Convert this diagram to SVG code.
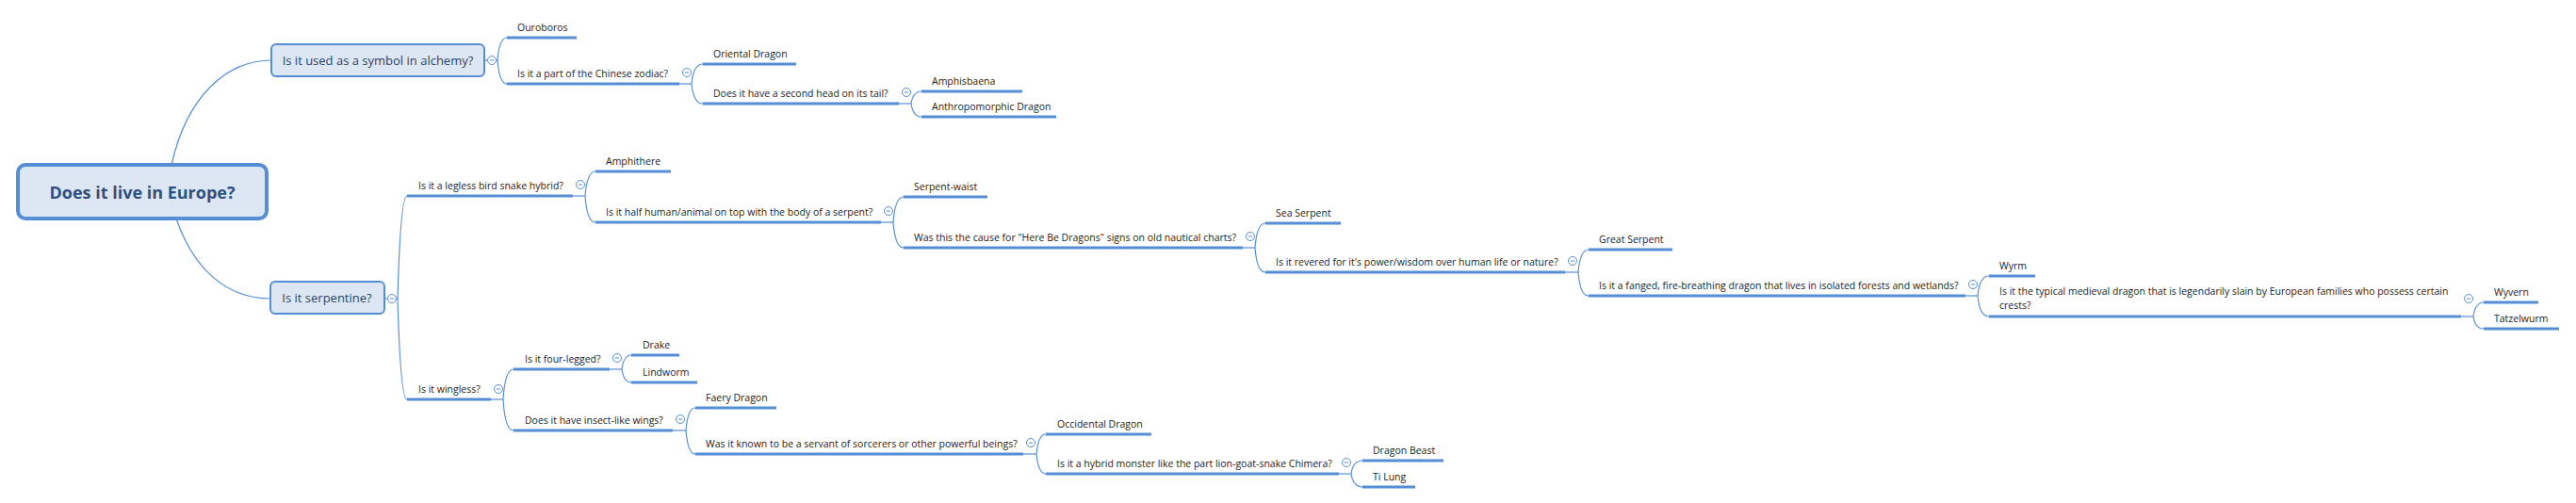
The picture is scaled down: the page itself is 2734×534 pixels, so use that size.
<svg xmlns="http://www.w3.org/2000/svg" xmlns:xlink="http://www.w3.org/1999/xlink" width="2734" height="534" viewBox="0 0 2734 534">
<style>
.c{fill:none;stroke:#558ed5;stroke-width:1.2}
.u{fill:none;stroke:#558ed5;stroke-width:3}
.t{font-family:'Open Sans','Noto Sans',sans-serif;font-size:10.5px;fill:#222222}
.bx{fill:#dde7f3;stroke:#558ed5;stroke-width:2}
.bt{font-family:'Open Sans','Noto Sans',sans-serif;font-size:13px;fill:#2a4468;text-anchor:middle}
.rt{font-family:'Open Sans','Noto Sans',sans-serif;font-size:18px;font-weight:bold;fill:#2e5080;text-anchor:middle}
</style>
<defs>
<g id="m"><circle r="4.5" fill="#ffffff" stroke="#558ed5" stroke-width="1"/><line x1="-2.2" y1="0" x2="2.2" y2="0" stroke="#558ed5" stroke-width="1"/></g>
</defs>
<rect width="2734" height="534" fill="#ffffff"/>
<g id="connectors">
<path class="c" d="M182,175 C198,103 240,64 288,64"/>
<path class="c" d="M187,232 C205,285 240,317 287,317"/>
<path class="c" d="M515,64 H528"/>
<path class="c" d="M528,64 Q530,40 538,40"/>
<path class="c" d="M528,64 Q530,89 538,89"/>
<path class="c" d="M721,89 H734"/>
<path class="c" d="M734,89 Q736,68 746,68"/>
<path class="c" d="M734,89 Q736,110 746,110"/>
<path class="c" d="M954,110 H967"/>
<path class="c" d="M967,110 Q969,97 978,97"/>
<path class="c" d="M967,110 Q969,124 978,124"/>
<path class="c" d="M409,317 H422"/>
<path class="c" d="M422,317 Q425,208 432,208"/>
<path class="c" d="M422,317 Q425,424 432,424"/>
<path class="c" d="M608,208 H621"/>
<path class="c" d="M621,208 Q623,182 632,182"/>
<path class="c" d="M621,208 Q623,236 632,236"/>
<path class="c" d="M935,236 H948"/>
<path class="c" d="M948,236 Q950,209 959,209"/>
<path class="c" d="M948,236 Q950,263 959,263"/>
<path class="c" d="M1319,263 H1332"/>
<path class="c" d="M1332,263 Q1334,237 1343,237"/>
<path class="c" d="M1332,263 Q1334,289 1343,289"/>
<path class="c" d="M1661,289 H1675"/>
<path class="c" d="M1675,289 Q1677,265 1686,265"/>
<path class="c" d="M1675,289 Q1677,314 1686,314"/>
<path class="c" d="M2086,314 H2099"/>
<path class="c" d="M2099,314 Q2101,293 2111,293"/>
<path class="c" d="M2099,314 Q2101,336 2111,336"/>
<path class="c" d="M2612,336 H2625"/>
<path class="c" d="M2625,336 Q2627,321 2636,321"/>
<path class="c" d="M2625,336 Q2627,349 2636,349"/>
<path class="c" d="M521,424 H534"/>
<path class="c" d="M534,424 Q536,392 545,392"/>
<path class="c" d="M534,424 Q536,457 545,457"/>
<path class="c" d="M647,392 H660"/>
<path class="c" d="M660,392 Q662,377 670,377"/>
<path class="c" d="M660,392 Q662,406 670,406"/>
<path class="c" d="M714,457 H728"/>
<path class="c" d="M728,457 Q730,433 738,433"/>
<path class="c" d="M728,457 Q730,482 738,482"/>
<path class="c" d="M1086,482 H1100"/>
<path class="c" d="M1100,482 Q1102,461 1110,461"/>
<path class="c" d="M1100,482 Q1102,503 1110,503"/>
<path class="c" d="M1421,503 H1434"/>
<path class="c" d="M1434,503 Q1436,489 1446,489"/>
<path class="c" d="M1434,503 Q1436,517 1446,517"/>
</g>
<g id="root"><rect x="19" y="175" width="264" height="57" rx="8" fill="#dde7f3" stroke="#558ed5" stroke-width="4"/><text class="rt" x="151" y="211">Does it live in Europe?</text></g>
<g id="alchemy"><rect class="bx" x="288" y="47" width="226" height="34" rx="5"/><text class="bt" x="401" y="69">Is it used as a symbol in alchemy?</text><use xlink:href="#m" x="522" y="64"/></g>
<g id="serpentine"><rect class="bx" x="287" y="299" width="121" height="34" rx="5"/><text class="bt" x="347" y="321">Is it serpentine?</text><use xlink:href="#m" x="416" y="317"/></g>
<g id="ouroboros"><path class="u" d="M538,40 H612"/><text class="t" x="549" y="33">Ouroboros</text></g>
<g id="zodiac"><path class="u" d="M538,89 H721"/><text class="t" x="549" y="82">Is it a part of the Chinese zodiac?</text><use xlink:href="#m" x="729" y="77"/></g>
<g id="oriental"><path class="u" d="M746,68 H845"/><text class="t" x="757" y="61">Oriental Dragon</text></g>
<g id="secondhead"><path class="u" d="M746,110 H954"/><text class="t" x="757" y="103">Does it have a second head on its tail?</text><use xlink:href="#m" x="962" y="98"/></g>
<g id="amphisbaena"><path class="u" d="M978,97 H1085"/><text class="t" x="989" y="90">Amphisbaena</text></g>
<g id="anthropomorphic"><path class="u" d="M978,124 H1121"/><text class="t" x="989" y="117">Anthropomorphic Dragon</text></g>
<g id="legless"><path class="u" d="M432,208 H608"/><text class="t" x="444" y="201">Is it a legless bird snake hybrid?</text><use xlink:href="#m" x="616" y="196"/></g>
<g id="amphithere"><path class="u" d="M632,182 H712"/><text class="t" x="643" y="175">Amphithere</text></g>
<g id="halfhuman"><path class="u" d="M632,236 H935"/><text class="t" x="643" y="229">Is it half human/animal on top with the body of a serpent?</text><use xlink:href="#m" x="943" y="224"/></g>
<g id="serpentwaist"><path class="u" d="M959,209 H1048"/><text class="t" x="970" y="202">Serpent-waist</text></g>
<g id="herebedragons"><path class="u" d="M959,263 H1319"/><text class="t" x="970" y="256">Was this the cause for "Here Be Dragons" signs on old nautical charts?</text><use xlink:href="#m" x="1327" y="251"/></g>
<g id="seaserpent"><path class="u" d="M1343,237 H1423"/><text class="t" x="1354" y="230">Sea Serpent</text></g>
<g id="revered"><path class="u" d="M1343,289 H1661"/><text class="t" x="1354" y="282">Is it revered for it's power/wisdom over human life or nature?</text><use xlink:href="#m" x="1669" y="277"/></g>
<g id="greatserpent"><path class="u" d="M1686,265 H1775"/><text class="t" x="1697" y="258">Great Serpent</text></g>
<g id="fanged"><path class="u" d="M1686,314 H2086"/><text class="t" x="1697" y="307">Is it a fanged, fire-breathing dragon that lives in isolated forests and wetlands?</text><use xlink:href="#m" x="2094" y="302"/></g>
<g id="wyrm"><path class="u" d="M2111,293 H2160"/><text class="t" x="2122" y="286">Wyrm</text></g>
<g id="medieval"><path class="u" d="M2111,336 H2612"/><text class="t" x="2122" y="313">Is it the typical medieval dragon that is legendarily slain by European families who possess certain</text><text class="t" x="2122" y="328">crests?</text><use xlink:href="#m" x="2620" y="317"/></g>
<g id="wyvern"><path class="u" d="M2636,321 H2694"/><text class="t" x="2647" y="314">Wyvern</text></g>
<g id="tatzelwurm"><path class="u" d="M2636,349 H2716"/><text class="t" x="2647" y="342">Tatzelwurm</text></g>
<g id="wingless"><path class="u" d="M432,424 H521"/><text class="t" x="444" y="417">Is it wingless?</text><use xlink:href="#m" x="529" y="413"/></g>
<g id="fourlegged"><path class="u" d="M545,392 H647"/><text class="t" x="557" y="385">Is it four-legged?</text><use xlink:href="#m" x="655" y="380"/></g>
<g id="drake"><path class="u" d="M670,377 H721"/><text class="t" x="682" y="370">Drake</text></g>
<g id="lindworm"><path class="u" d="M670,406 H740"/><text class="t" x="682" y="399">Lindworm</text></g>
<g id="insect"><path class="u" d="M545,457 H714"/><text class="t" x="557" y="450">Does it have insect-like wings?</text><use xlink:href="#m" x="722" y="445"/></g>
<g id="faery"><path class="u" d="M738,433 H824"/><text class="t" x="749" y="426">Faery Dragon</text></g>
<g id="servant"><path class="u" d="M738,482 H1086"/><text class="t" x="749" y="475">Was it known to be a servant of sorcerers or other powerful beings?</text><use xlink:href="#m" x="1094" y="470"/></g>
<g id="occidental"><path class="u" d="M1110,461 H1222"/><text class="t" x="1122" y="454">Occidental Dragon</text></g>
<g id="chimera"><path class="u" d="M1110,503 H1421"/><text class="t" x="1122" y="496">Is it a hybrid monster like the part lion-goat-snake Chimera?</text><use xlink:href="#m" x="1429" y="491"/></g>
<g id="dragonbeast"><path class="u" d="M1446,489 H1532"/><text class="t" x="1457" y="482">Dragon Beast</text></g>
<g id="tilung"><path class="u" d="M1446,517 H1502"/><text class="t" x="1457" y="510">Ti Lung</text></g>
</svg>
